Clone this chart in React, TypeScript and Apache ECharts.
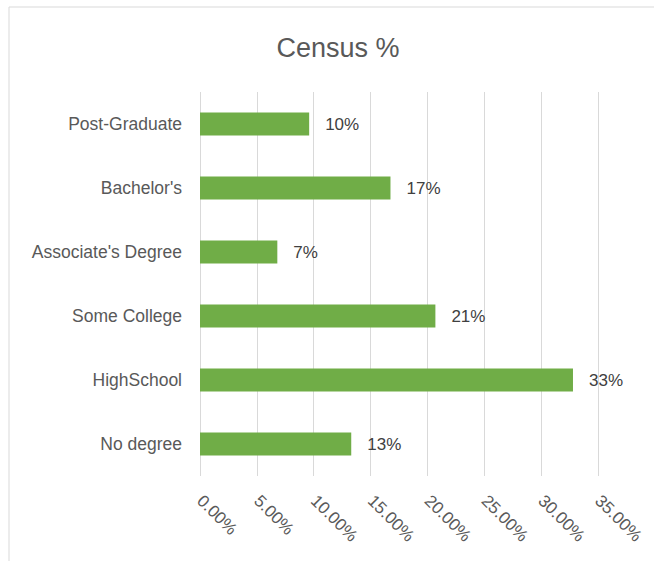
import React, { useEffect, useRef } from "react";
import * as echarts from "echarts";

const categories = ["Post-Graduate", "Bachelor's", "Associate's Degree", "Some College", "HighSchool", "No degree"];
const censusPct = [9.6, 16.75, 6.8, 20.7, 32.8, 13.3];
const axisMax = 35;
const axisStep = 5;

const FONT = "'Liberation Sans', Arial, sans-serif";

export default function App() {
  const ref = useRef<HTMLDivElement>(null);
  useEffect(() => {
    if (!ref.current) return;
    const chart = echarts.init(ref.current, undefined, { renderer: "svg" });
    chart.setOption({
      animation: false,
      backgroundColor: "#ffffff",
      textStyle: { fontFamily: FONT },
      title: {
        text: "Census %",
        left: 333,
        top: 29,
        textAlign: "center",
        textStyle: { fontFamily: FONT, fontSize: 27, fontWeight: "normal", color: "#595959" },
      },
      graphic: [
        {
          type: "rect",
          shape: { x: 9, y: 7, width: 800, height: 800 },
          style: { fill: "none", stroke: "#d9d9d9", lineWidth: 1 },
          silent: true,
        },
      ],
      grid: { left: 200, right: 56, top: 92, bottom: 85, containLabel: false },
      xAxis: {
        type: "value",
        min: 0,
        max: axisMax,
        interval: axisStep,
        axisLine: { show: false },
        axisTick: { show: false },
        splitLine: { show: true, lineStyle: { color: "#d9d9d9", width: 1 } },
        axisLabel: {
          rotate: -45,
          margin: 22,
          color: "#595959",
          fontSize: 17,
          fontFamily: FONT,
          formatter: (v: number) => v.toFixed(2) + "%",
        },
      },
      yAxis: {
        type: "category",
        data: categories,
        inverse: true,
        axisLine: { show: false },
        axisTick: { show: false },
        splitLine: { show: false },
        axisLabel: { color: "#595959", fontSize: 17.5, margin: 18, fontFamily: FONT },
      },
      series: [
        {
          type: "bar",
          data: censusPct,
          barCategoryGap: "64%",
          itemStyle: { color: "#70ad47" },
          label: {
            show: true,
            position: "right",
            distance: 16,
            color: "#404040",
            fontSize: 17,
            fontFamily: FONT,
            formatter: (p: any) => Math.round(p.value) + "%",
          },
        },
      ],
    });
    return () => chart.dispose();
  }, []);
  return (
    <div
      ref={ref}
      style={{ position: "fixed", left: 0, top: 0, width: 654, height: 561 }}
    />
  );
}
